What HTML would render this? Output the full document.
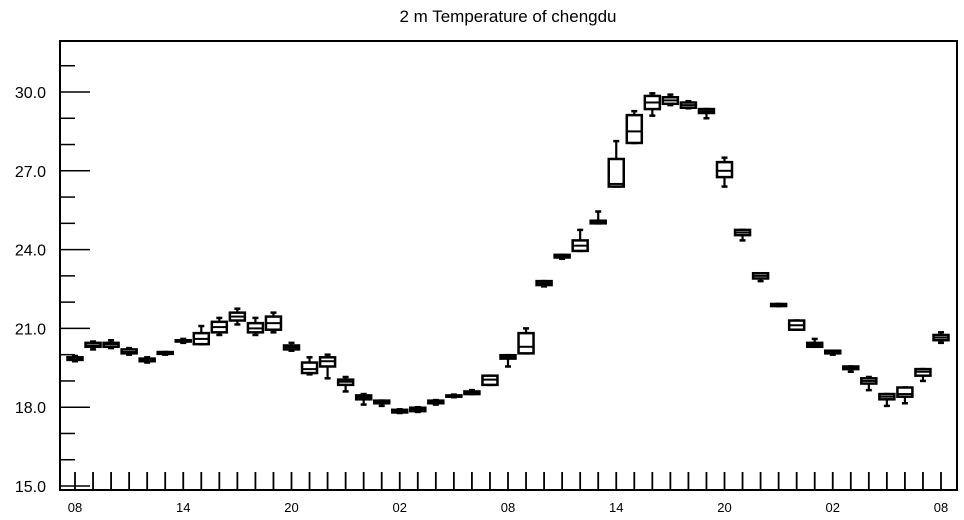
<!DOCTYPE html>
<html><head><meta charset="utf-8"><style>
body{margin:0;background:#fff;}
svg{display:block;font-family:"Liberation Sans",sans-serif;}
</style></head><body>
<svg id="chart" width="964" height="520" viewBox="0 0 964 520">
<text x="508" y="22" text-anchor="middle" font-size="17">2 m Temperature of chengdu</text>
<rect x="60" y="41" width="897" height="449" fill="none" stroke="#000" stroke-width="2"/>
<g id="marks"></g>
</svg>
<script>
const hours = ["08","09","10","11","12","13","14","15","16","17","18","19","20","21","22","23","00","01","02","03","04","05","06","07","08","09","10","11","12","13","14","15","16","17","18","19","20","21","22","23","00","01","02","03","04","05","06","07","08"];
const mins = [19.75,20.2,20.25,20.0,19.7,20.0,20.45,20.4,20.75,21.15,20.75,20.85,20.15,19.25,19.1,18.6,18.1,18.05,17.78,17.82,18.1,18.38,18.5,18.85,19.55,20.05,22.6,23.65,23.95,25.0,26.4,28.06,29.1,29.5,29.38,29.0,26.4,24.35,22.8,21.85,20.95,20.3,20.0,19.35,18.65,18.05,18.15,19.0,20.45];
const q1s = [19.8,20.3,20.3,20.05,19.75,20.03,20.5,20.4,20.85,21.3,20.85,20.95,20.2,19.3,19.55,18.85,18.3,18.15,17.8,17.85,18.15,18.4,18.5,18.85,19.85,20.05,22.65,23.7,23.95,25.0,26.4,28.06,29.35,29.55,29.4,29.2,26.76,24.55,22.9,21.85,20.95,20.3,20.05,19.45,18.9,18.3,18.4,19.2,20.55];
const medians = [19.85,20.35,20.4,20.1,19.8,20.05,20.5,20.6,21.05,21.45,21.0,21.2,20.28,19.45,19.75,18.97,18.38,18.2,17.85,17.93,18.2,18.42,18.55,19.05,19.9,20.3,22.72,23.75,24.15,25.05,26.5,28.5,29.6,29.68,29.5,29.27,27.0,24.65,23.0,21.9,21.12,20.38,20.1,19.5,19.0,18.4,18.5,19.35,20.65];
const q3s = [19.9,20.45,20.45,20.2,19.85,20.1,20.55,20.82,21.25,21.6,21.2,21.45,20.35,19.7,19.9,19.05,18.45,18.25,17.9,17.98,18.25,18.45,18.6,19.2,19.98,20.82,22.8,23.8,24.35,25.1,27.45,29.12,29.85,29.8,29.6,29.35,27.33,24.75,23.1,21.93,21.3,20.45,20.15,19.55,19.1,18.5,18.75,19.45,20.75];
const maxs = [19.95,20.5,20.55,20.25,19.9,20.1,20.6,21.09,21.4,21.75,21.4,21.6,20.45,19.9,20.0,19.15,18.5,18.25,17.92,18.0,18.27,18.48,18.65,19.2,19.98,21.0,22.8,23.8,24.75,25.45,28.13,29.27,29.95,29.9,29.65,29.35,27.5,24.75,23.1,21.93,21.3,20.6,20.15,19.55,19.15,18.5,18.75,19.45,20.85];
const yTicks = [15,18,21,24,27,30];
const yTickLabels = ["15.0","18.0","21.0","24.0","27.0","30.0"];
const xLabelIdx = [0,6,12,18,24,30,36,42,48];

const NS="http://www.w3.org/2000/svg";
const g=document.getElementById('marks');
const xs=i=>75+i*(941-75)/48;
const ys=v=>486-(v-15)*(394/15);
function mk(tag,attrs,name){const e=document.createElementNS(NS,tag);for(const k in attrs)e.setAttribute(k,attrs[k]);


g.appendChild(e);return e;}
for(let v=15;v<=31;v++){
  const maj=yTicks.includes(v);
  mk('line',{x1:60,x2:maj?90:75,y1:ys(v),y2:ys(v),stroke:'#000','stroke-width':1.5},maj?'y-major-tick':'y-minor-tick');
}
yTicks.forEach((v,i)=>{const t=mk('text',{x:46,y:ys(v)+6,'text-anchor':'end','font-size':16},'y-tick-label');t.textContent=yTickLabels[i];});
hours.forEach((h,i)=>{mk('line',{x1:xs(i),x2:xs(i),y1:472,y2:490,stroke:'#000','stroke-width':1.8},'x-tick');});
xLabelIdx.forEach(i=>{const t=mk('text',{x:xs(i),y:512,'text-anchor':'middle','font-size':13},'x-tick-label');t.textContent=hours[i];});
hours.forEach((h,i)=>{
  const x=xs(i),w=15;
  mk('line',{x1:x,x2:x,y1:ys(maxs[i]),y2:ys(q3s[i]),stroke:'#000','stroke-width':2.2},'whisker-upper');
  mk('line',{x1:x,x2:x,y1:ys(q1s[i]),y2:ys(mins[i]),stroke:'#000','stroke-width':2.2},'whisker-lower');
  mk('line',{x1:x-3,x2:x+3,y1:ys(maxs[i]),y2:ys(maxs[i]),stroke:'#000','stroke-width':2.5},'whisker-cap-max');
  mk('line',{x1:x-3,x2:x+3,y1:ys(mins[i]),y2:ys(mins[i]),stroke:'#000','stroke-width':2.5},'whisker-cap-min');
  const top=ys(q3s[i]),bot=ys(q1s[i]);
  mk('rect',{x:x-w/2,y:top,width:w,height:Math.max(bot-top,1),fill:'#fff',stroke:'#000','stroke-width':2.5},'box-'+i);
  mk('line',{x1:x-w/2,x2:x+w/2,y1:ys(medians[i]),y2:ys(medians[i]),stroke:'#000','stroke-width':2},'median-line');
});
</script>
</body></html>
